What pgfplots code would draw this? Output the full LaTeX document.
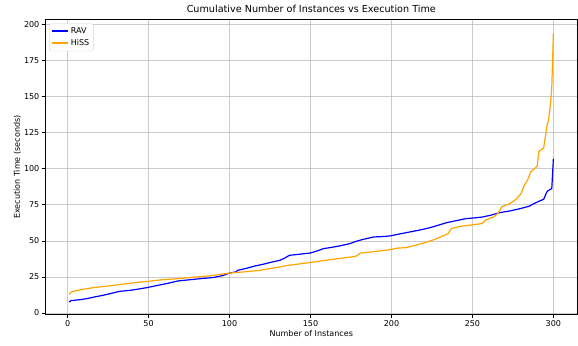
\documentclass[border=0pt]{standalone}
\usepackage{pgfplots}
\pgfplotsset{compat=1.18}
\usepackage{fontspec}
\setmainfont{DejaVu Sans}
\usetikzlibrary{calc}
\definecolor{mplorange}{RGB}{255,165,0}
\definecolor{mplblue}{RGB}{0,0,255}
\definecolor{gridgray}{RGB}{176,176,176}
\begin{document}
\begin{tikzpicture}
\begin{axis}[
  name=ax,
  scale only axis,
  width=663pt, height=367.5pt,
  xmin=-13.95, xmax=314.95,
  ymin=-1.2, ymax=203.4,
  xtick={0,50,...,300},
  ytick={0,25,...,200},
  xtick pos=lower, ytick pos=left,
  tick align=outside,
  major tick length=3.5pt,
  tick style={black, line width=0.8pt},
  axis line style={black, line width=0.8pt},
  grid=major,
  major grid style={gridgray, line width=0.8pt, opacity=0.65},
  /pgf/number format/assume math mode=true,
  tick label style={font=\fontsize{10}{12}\selectfont},
  label style={font=\fontsize{10}{12}\selectfont},
  title style={font=\fontsize{12}{14}\selectfont, yshift=-1pt},
  title={Cumulative Number of Instances vs Execution Time},
  xlabel={Number of Instances},
  ylabel={Execution Time (seconds)},
  xlabel style={yshift=2pt},
  ylabel style={yshift=-3pt},
  legend cell align=left,
  legend style={at={(0,1)}, anchor=north west, xshift=5pt, yshift=-5pt,
    rounded corners=2pt, fill=white,
    font=\fontsize{10}{12}\selectfont, row sep=2pt, inner xsep=3pt, inner ysep=3pt,
    every path/.append style={}, draw=gray!35},
  legend image post style={line width=2pt},
]
\addplot[draw=mplblue, line width=1.5pt,
  legend image code/.code={\draw[mplblue, line width=2pt] (0pt,0pt) -- (20pt,0pt);}] coordinates {
(1,7.5) (2,8.6) (4,8.8) (8,9.3) (12,10.0) (17,11.2) (22,12.3) (27,13.6) (32,15.0) (40,15.9) (49,17.6) (55,19.0) (62,20.6) (68,22.2) (75,23.0) (82,23.8) (90,24.6) (96,26.0) (100,27.7) (104,28.5) (105,29.6) (110,30.8) (115,32.4) (120,33.6) (125,35.0) (131,36.5) (134,38.0) (137,40.0) (143,40.7) (150,41.6) (154,43.0) (158,44.6) (163,45.5) (168,46.5) (174,48.0) (178,49.6) (182,50.9) (189,52.7) (195,53.0) (199,53.4) (205,54.8) (211,56.1) (217,57.4) (223,58.9) (228,60.5) (234,62.6) (240,64.0) (246,65.4) (252,66.0) (256,66.5) (261,67.7) (267,69.6) (273,70.7) (279,72.2) (285,74.0) (288,75.8) (291,77.4) (294,78.8) (296,84.0) (297,85.0) (299,86.2) (300,107)
};
\addlegendentry{RAV}
\addplot[draw=mplorange, line width=1.5pt,
  legend image code/.code={\draw[mplorange, line width=2pt] (0pt,0pt) -- (20pt,0pt);}] coordinates {
(1,12.8) (2,14.3) (4,15.2) (10,16.5) (16,17.6) (24,18.6) (32,19.7) (40,20.8) (50,22.0) (58,23.0) (68,23.8) (78,24.8) (88,25.8) (100,27.7) (110,28.6) (119,29.6) (125,30.8) (131,31.9) (136,33.0) (143,34.0) (150,35.0) (158,36.3) (165,37.4) (172,38.4) (178,39.3) (181,41.6) (187,42.3) (193,43.0) (199,43.9) (204,45.0) (209,45.3) (215,47.0) (222,49.2) (228,51.5) (235,55.0) (237,58.5) (242,60.0) (249,61.0) (256,62.0) (258,64.2) (260,65.4) (263,66.5) (266,69.3) (268,73.5) (273,75.8) (277,78.8) (280,82.7) (282,88.5) (284,92.0) (286,97.7) (290,101.7) (291,112.0) (294,114.3) (296,129.4) (297,134.0) (298,143.0) (299,156.0) (300,194.0)
};
\addlegendentry{HiSS}
\end{axis}
\pgfresetboundingbox
\path[use as bounding box] ($(ax.south west)+(-56pt,-37.9pt)$) rectangle ($(ax.north east)+(0.5pt,24.3pt)$);
\end{tikzpicture}
\end{document}
